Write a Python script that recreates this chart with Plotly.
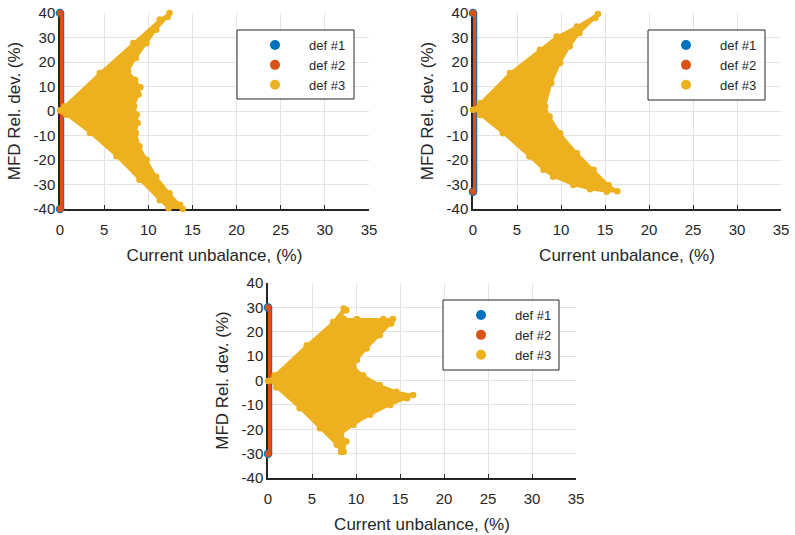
import plotly.graph_objects as go

# ---------------- data ----------------
SERIES = ["def #1", "def #2", "def #3"]
X_TICKS = [0, 5, 10, 15, 20, 25, 30, 35]
Y_TICKS = [-40, -30, -20, -10, 0, 10, 20, 30, 40]
X_LABEL = "Current unbalance, (%)"
Y_LABEL = "MFD Rel. dev. (%)"

# def #1 / def #2: all points lie at x = 0, spanning this y range
P1_DEF12_X = [0, 0]
P1_DEF12_Y = [-40, 40]
P2_DEF12_X = [0, 0]
P2_DEF12_Y = [-33, 40]
P3_DEF12_X = [0, 0]
P3_DEF12_Y = [-30, 30]

# def #3: outline of the point cloud
P1_DEF3_X = [0.0, 0.5, 4.5, 8.3, 11.3, 12.4, 12.2, 10.9, 9.8, 8.6, 7.7, 8.5, 9.1, 8.9, 8.4,
             8.7, 8.8, 8.6, 9.0, 9.8, 10.9, 12.4, 13.6, 13.9, 12.3, 11.3, 9.0, 6.4, 3.4, 0.7, 0.2]
P1_DEF3_Y = [0.3, 1.9, 15.5, 27.8, 37.3, 40.0, 38.4, 33.2, 27.7, 21.6, 16.2, 12.8, 9.7, 6.7, 1.9,
             -1.5, -4.9, -9.0, -14.4, -19.9, -26.8, -33.6, -38.3, -40.0, -39.7, -36.4, -28.1, -18.5, -9.0, -1.5, -0.2]

P2_DEF3_X = [0.0, 0.8, 4.2, 7.6, 9.5, 11.8, 14.2, 13.9, 12.1, 11.0, 9.9, 8.9, 8.2, 8.7, 9.9,
             11.8, 13.7, 15.4, 16.4, 15.2, 13.3, 11.4, 9.1, 8.0, 6.4, 3.4, 0.8]
P2_DEF3_Y = [0.5, 3.2, 15.5, 25.0, 30.4, 34.5, 39.6, 38.0, 31.8, 26.4, 19.6, 11.4, 1.8, -2.2, -9.1,
             -17.2, -24.0, -30.2, -32.8, -33.0, -31.9, -30.2, -26.8, -24.0, -18.6, -9.1, -1.6]

P3_DEF3_X = [0.0, 0.76, 4.4, 7.4, 8.6, 8.9, 8.2, 8.6, 10.1, 13.1, 14.2, 14.0, 12.7, 11.2, 10.1,
             9.7, 10.8, 12.7, 14.6, 16.5, 15.8, 13.9, 11.6, 9.7, 8.3, 8.9, 8.6, 8.3, 7.8, 5.9, 3.6, 0.95]
P3_DEF3_Y = [-0.2, 2.2, 14.5, 24.0, 29.5, 28.8, 26.1, 25.3, 25.2, 25.2, 25.2, 23.4, 18.6, 13.1, 8.4,
             5.7, 2.2, -1.8, -4.6, -5.9, -7.3, -10.0, -14.1, -18.2, -22.0, -25.0, -29.2, -29.3, -26.4, -19.6, -11.4, -2.9]

# ---------------- style ----------------
COLORS = ["#0072BD", "#D95319", "#EDB120"]
FONT = "Liberation Sans, Arial, sans-serif"
TXT = "#262626"
GRID = "#E3E3E3"
W, H = 795, 535


def px_x(v):
    return v / W


def px_y(v):
    return 1 - v / H


panels = [
    dict(ax="", bar=(P1_DEF12_X, P1_DEF12_Y), c=(P1_DEF3_X, P1_DEF3_Y), dom_x=[px_x(60), px_x(369)],
         dom_y=[px_y(209), px_y(13)], leg="legend", box=(237, 354, 30, 99)),
    dict(ax="2", bar=(P2_DEF12_X, P2_DEF12_Y), c=(P2_DEF3_X, P2_DEF3_Y), dom_x=[px_x(473), px_x(781)],
         dom_y=[px_y(209), px_y(13)], leg="legend2", box=(648, 765, 30, 100)),
    dict(ax="3", bar=(P3_DEF12_X, P3_DEF12_Y), c=(P3_DEF3_X, P3_DEF3_Y), dom_x=[px_x(268), px_x(576)],
         dom_y=[px_y(478), px_y(283)], leg="legend3", box=(443, 559, 300, 370)),
]

fig = go.Figure()
layout = dict(
    width=W, height=H, margin=dict(l=0, r=0, t=0, b=0, autoexpand=False),
    paper_bgcolor="white", plot_bgcolor="white",
    font=dict(family=FONT, color=TXT, size=15),
    shapes=[],
)


def bar_trace(bx, by, color, width, xa, ya, grp):
    # one error bar spanning the y range of the points at x = 0
    lo, hi = min(by), max(by)
    return go.Scatter(
        x=[bx[0]], y=[(lo + hi) / 2], mode="markers", xaxis=xa, yaxis=ya, showlegend=False,
        marker=dict(size=0.1, color=color, opacity=0), cliponaxis=False, hoverinfo="skip",
        error_y=dict(type="data", symmetric=True, array=[(hi - lo) / 2], color=color,
                     thickness=width, width=0),
        legendgroup=grp,
    )


for p in panels:
    xa = "x" + p["ax"]
    ya = "y" + p["ax"]
    leg = p["leg"]
    bx, by = p["bar"]
    cx, cy = p["c"]
    g1, g2, g3 = ("d1" + p["ax"], "d2" + p["ax"], "d3" + p["ax"])
    # def #1 (blue, underneath)
    fig.add_trace(bar_trace(bx, by, COLORS[0], 8.5, xa, ya, g1))
    fig.add_trace(go.Scatter(x=bx, y=by, mode="markers", xaxis=xa, yaxis=ya, showlegend=False,
                             marker=dict(color=COLORS[0], size=8.5), cliponaxis=False, legendgroup=g1,
                             name=SERIES[0]))
    # def #2 (red)
    fig.add_trace(bar_trace(bx, by, COLORS[1], 6.5, xa, ya, g2))
    fig.add_trace(go.Scatter(x=bx, y=by, mode="markers", xaxis=xa, yaxis=ya, showlegend=False,
                             marker=dict(color=COLORS[1], size=6.5), cliponaxis=False, legendgroup=g2,
                             name=SERIES[1]))
    # def #3 (yellow cloud)
    fig.add_trace(go.Scatter(x=cx, y=cy, mode="lines", fill="toself", fillcolor=COLORS[2], xaxis=xa, yaxis=ya,
                             showlegend=False, line=dict(color=COLORS[2], width=2), hoverinfo="skip",
                             legendgroup=g3))
    fig.add_trace(go.Scatter(x=cx, y=cy, mode="markers", xaxis=xa, yaxis=ya, showlegend=False,
                             marker=dict(color=COLORS[2], size=6.5), cliponaxis=False, legendgroup=g3,
                             name=SERIES[2]))
    # legend entries
    for name, col, grp in zip(SERIES, COLORS, (g1, g2, g3)):
        fig.add_trace(go.Scatter(x=[None], y=[None], mode="markers", xaxis=xa, yaxis=ya, name=name,
                                 legend=leg, legendgroup=grp, marker=dict(color=col, size=10)))

    layout["xaxis" + p["ax"]] = dict(
        domain=p["dom_x"], anchor=ya, range=[0, 35], tickvals=X_TICKS, ticktext=[str(v) for v in X_TICKS],
        showgrid=True, gridcolor=GRID, gridwidth=1, zeroline=False, automargin=False,
        showline=True, linecolor=TXT, linewidth=1.5, ticks="inside", ticklen=4, tickcolor=TXT,
        ticklabelstandoff=6, ticklabeloverflow="allow",
        tickfont=dict(size=15, color=TXT, family=FONT), layer="below traces",
        title=dict(text=X_LABEL, font=dict(size=17, color=TXT, family=FONT), standoff=12),
    )
    layout["yaxis" + p["ax"]] = dict(
        domain=p["dom_y"], anchor=xa, range=[-40, 40], tickvals=Y_TICKS, ticktext=[str(v) for v in Y_TICKS],
        showgrid=True, gridcolor=GRID, gridwidth=1, zeroline=False, automargin=False,
        showline=True, linecolor=TXT, linewidth=1.5, ticks="inside", ticklen=4, tickcolor=TXT,
        ticklabelstandoff=0, ticklabeloverflow="allow",
        tickfont=dict(size=15, color=TXT, family=FONT), layer="below traces",
        title=dict(text=Y_LABEL, font=dict(size=17, color=TXT, family=FONT), standoff=9),
    )
    bl, br, bt, bb = p["box"]
    layout["shapes"].append(dict(
        type="rect", xref="paper", yref="paper", x0=px_x(bl), x1=px_x(br), y0=px_y(bb), y1=px_y(bt),
        fillcolor="white", line=dict(color=TXT, width=1), layer="above",
    ))
    layout[leg] = dict(
        x=px_x(bl + 4), y=px_y(bt), xanchor="left", yanchor="top", bgcolor="rgba(0,0,0,0)",
        borderwidth=0, font=dict(size=13, color=TXT, family=FONT),
        itemwidth=58, tracegroupgap=0, itemclick=False, itemdoubleclick=False,
    )

fig.update_layout(**layout)
# the page body has a default 8 px margin; remove it so the figure sits at the window's corner
fig.write_html("out.html", config={"displayModeBar": False},
               post_script="document.body.style.margin='0px';")
